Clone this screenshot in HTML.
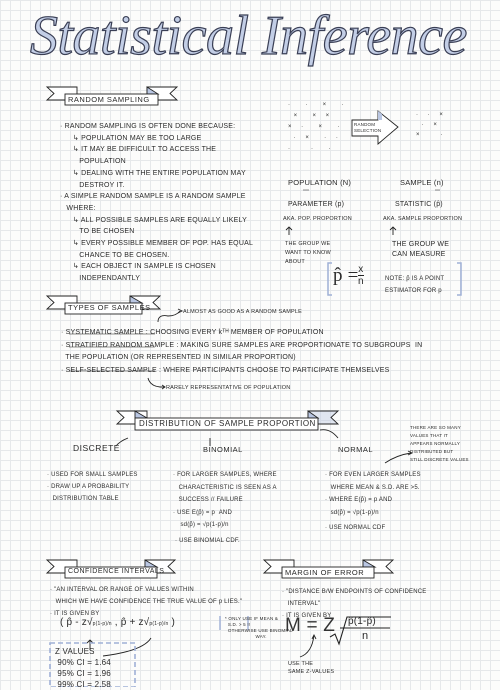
<!DOCTYPE html>
<html><head><meta charset="utf-8">
<style>
html,body{margin:0;padding:0}
body{width:500px;height:687px;position:relative;overflow:hidden;background:#fcfcfb;
background-image:linear-gradient(#e6e8ea 1px,transparent 1px),linear-gradient(90deg,#e6e8ea 1px,transparent 1px);background-size:10px 10px;
font-family:"Liberation Sans",sans-serif;color:#2a2a2a}
.t{position:absolute;font-size:7px;white-space:nowrap;letter-spacing:0.2px;line-height:8px}
.h{position:absolute;font-size:8.5px;white-space:nowrap;letter-spacing:0.5px}
svg{position:absolute;left:0;top:0}
.title{position:absolute;left:30px;top:4px;font-family:"Liberation Serif",serif;font-style:italic;font-size:56px;line-height:64px;color:#c3cee6;-webkit-text-stroke:1.2px #3a3f55;letter-spacing:-0.5px;white-space:nowrap}
</style></head><body>
<div class="title">Statistical Inference</div>
<svg width="500" height="687" viewBox="0 0 500 687" fill="none" stroke="#222" stroke-width="0.9">
<g>
<polygon points="47,87 77,87 77,100 47,100 54,93.5" fill="#fff"/>
<polygon points="147,87 177,87 170,93.5 177,100 147,100" fill="#fff"/>
<polygon points="147,87 158,94 147,94" fill="#b9c6e2"/>
<rect x="65" y="94" width="93" height="11" fill="#fff"/>
</g>
<g>
<polygon points="47,296 77,296 77,309 47,309 54,302.5" fill="#fff"/>
<polygon points="130,296 160,296 153,302.5 160,309 130,309" fill="#fff"/>
<polygon points="130,296 142,303 130,303" fill="#b9c6e2"/>
<rect x="65" y="303" width="77" height="11" fill="#fff"/>
</g>
<g>
<polygon points="117,411 147,411 147,424 117,424 124,417.5" fill="#fff"/>
<polygon points="308,411 338,411 331,417.5 338,424 308,424" fill="#b9c6e2" fill-opacity="0.4"/>
<polygon points="308,411 318,418 308,418" fill="#b9c6e2"/>
<polygon points="135,411 147,418 135,418" fill="#b9c6e2"/>
<rect x="135" y="418" width="183" height="12" fill="#fff"/>
</g>
<g>
<polygon points="47,560 77,560 77,573 47,573 54,566.5" fill="#fff"/>
<polygon points="145,560 175,560 168,566.5 175,573 145,573" fill="#fff"/>
<polygon points="145,560 157,567 145,567" fill="#b9c6e2"/>
<rect x="65" y="567" width="92" height="11" fill="#fff"/>
</g>
<g>
<polygon points="264,560 294,560 294,573 264,573 271,566.5" fill="#fff"/>
<polygon points="363,560 393,560 386,566.5 393,573 363,573" fill="#fff"/>
<polygon points="363,560 375,567 363,567" fill="#b9c6e2"/>
<rect x="282" y="567" width="92" height="11" fill="#fff"/>
</g>
<polygon points="352,120 378,120 378,111 398,127 378,144 378,136 352,136" fill="#fff"/>
<polygon points="378,111 382,114 382,120 378,120" fill="#b9c6e2" stroke="none"/>
<path d="M332,263 h-4 v32 h4 M457,263 h4 v32 h-4" stroke="#9fb0d6" stroke-width="1.5"/>
<path d="M289,235 v-8 M286,230 l3,-3 l3,3 M393,235 v-8 M390,230 l3,-3 l3,3"/>
<path d="M158,322 q0,-8 10,-6 q8,0 12,-5" /><path d="M178,309 l4,2 l-4,2"/>
<path d="M148,378 q2,8 12,9 l5,0"/><path d="M162,385 l3,2 l-3,2"/>
<path d="M128,438 q-8,3 -12,8"/><path d="M210,438 v8"/><path d="M320,430 q10,-2 18,8"/>
<path d="M385,463 q12,-8 26,-10"/><path d="M408,451 l4,2 l-4,2"/>
<path d="M90,650 v-10 M87,643 l3,-3 l3,3"/><path d="M103,656 q40,-5 48,-18"/>
<path d="M300,657 q12,-4 14,-22"/><path d="M312,639 l2,-4 l2,4"/>
<rect x="50" y="643" width="85" height="44" stroke="#9fb0d6" stroke-width="1.6" stroke-dasharray="5,3"/>
<path d="M220,616 v14 M248,616 v14" stroke="#9fb0d6" stroke-width="1.4"/>
<g stroke-width="0.6">
<path d="M69,334 h86 M69,347 h86 M69,371 h86"/>
<path d="M303,190 h6 M435,190 h5"/>
</g>
<path d="M330,637 l5,-3 l4,10 l8,-27 h44" stroke-width="1.1"/>
<path d="M340,628 h50" stroke-width="1"/>
</svg>

<div class="t" style="left:288px;top:100px;font-size:6px;line-height:11px;letter-spacing:4px">·&nbsp;&nbsp;·&nbsp;&nbsp;×&nbsp;&nbsp;·<br>&nbsp;×&nbsp;&nbsp;×&nbsp;×<br>×&nbsp;·&nbsp;&nbsp;×&nbsp;&nbsp;·<br>&nbsp;·&nbsp;×&nbsp;&nbsp;·&nbsp;·<br>·&nbsp;&nbsp;&nbsp;·&nbsp;&nbsp;·</div>
<div class="t" style="left:416px;top:110px;font-size:6px;line-height:10px;letter-spacing:4px">·&nbsp;·&nbsp;×<br>&nbsp;·&nbsp;×<br>×&nbsp;&nbsp;&nbsp;·</div>
<div class="t" style="left:354px;top:122px;font-size:4.5px;line-height:6px">RANDOM<br>SELECTION</div>

<div class="h" style="left:68px;top:95px;font-size:7.5px">RANDOM SAMPLING</div>
<div class="t" style="left:60px;top:121px;line-height:11.7px">· RANDOM SAMPLING IS OFTEN DONE BECAUSE:<br>&nbsp;&nbsp;&nbsp;&nbsp;&nbsp;&nbsp;↳ POPULATION MAY BE TOO LARGE<br>&nbsp;&nbsp;&nbsp;&nbsp;&nbsp;&nbsp;↳ IT MAY BE DIFFICULT TO ACCESS THE<br>&nbsp;&nbsp;&nbsp;&nbsp;&nbsp;&nbsp;&nbsp;&nbsp;&nbsp;POPULATION<br>&nbsp;&nbsp;&nbsp;&nbsp;&nbsp;&nbsp;↳ DEALING WITH THE ENTIRE POPULATION MAY<br>&nbsp;&nbsp;&nbsp;&nbsp;&nbsp;&nbsp;&nbsp;&nbsp;&nbsp;DESTROY IT.<br>· A SIMPLE RANDOM SAMPLE IS A RANDOM SAMPLE<br>&nbsp;&nbsp;&nbsp;WHERE:<br>&nbsp;&nbsp;&nbsp;&nbsp;&nbsp;&nbsp;↳ ALL POSSIBLE SAMPLES ARE EQUALLY LIKELY<br>&nbsp;&nbsp;&nbsp;&nbsp;&nbsp;&nbsp;&nbsp;&nbsp;&nbsp;TO BE CHOSEN<br>&nbsp;&nbsp;&nbsp;&nbsp;&nbsp;&nbsp;↳ EVERY POSSIBLE MEMBER OF POP. HAS EQUAL<br>&nbsp;&nbsp;&nbsp;&nbsp;&nbsp;&nbsp;&nbsp;&nbsp;&nbsp;CHANCE TO BE CHOSEN.<br>&nbsp;&nbsp;&nbsp;&nbsp;&nbsp;&nbsp;↳ EACH OBJECT IN SAMPLE IS CHOSEN<br>&nbsp;&nbsp;&nbsp;&nbsp;&nbsp;&nbsp;&nbsp;&nbsp;&nbsp;INDEPENDANTLY</div>

<div class="t" style="left:288px;top:179px;font-size:7.5px">POPULATION (N)</div>
<div class="t" style="left:400px;top:179px;font-size:7.5px">SAMPLE (n)</div>
<div class="t" style="left:288px;top:201px">PARAMETER (p)</div>
<div class="t" style="left:395px;top:201px">STATISTIC (p̂)</div>
<div class="t" style="left:283px;top:215px;font-size:5.5px">AKA. POP. PROPORTION</div>
<div class="t" style="left:383px;top:215px;font-size:5.5px">AKA. SAMPLE PROPORTION</div>
<div class="t" style="left:285px;top:240px;font-size:5.5px;line-height:9px">THE GROUP WE<br>WANT TO KNOW<br>ABOUT</div>
<div class="t" style="left:392px;top:240px;font-size:7px;line-height:9.5px">THE GROUP WE<br>CAN MEASURE</div>
<div class="t" style="left:333px;top:266px;font-size:19px;line-height:20px;font-family:'Liberation Serif',serif">p̂ =</div>
<div class="t" style="left:358px;top:264px;font-size:10px;line-height:12px;text-align:center">x<br><span style="border-top:1px solid #222">n</span></div>
<div class="t" style="left:385px;top:273px;font-size:6px;line-height:12px">NOTE: p̂ IS A POINT<br>ESTIMATOR FOR p</div>

<div class="h" style="left:68px;top:303px;font-size:7.5px">TYPES OF SAMPLES</div>
<div class="t" style="left:183px;top:308px;font-size:5.5px">ALMOST AS GOOD AS A RANDOM SAMPLE</div>
<div class="t" style="left:61px;top:327px;line-height:12.5px">· SYSTEMATIC SAMPLE : CHOOSING EVERY kᵀᴴ MEMBER OF POPULATION<br>· STRATIFIED RANDOM SAMPLE : MAKING SURE SAMPLES ARE PROPORTIONATE TO SUBGROUPS &nbsp;IN<br>&nbsp;&nbsp;THE POPULATION (OR REPRESENTED IN SIMILAR PROPORTION)<br>· SELF-SELECTED SAMPLE : WHERE PARTICIPANTS CHOOSE TO PARTICIPATE THEMSELVES</div>
<div class="t" style="left:166px;top:384px;font-size:5.5px">RARELY REPRESENTATIVE OF POPULATION</div>

<div class="h" style="left:139px;top:419px;font-size:8px">DISTRIBUTION OF SAMPLE PROPORTION</div>
<div class="h" style="left:73px;top:443px">DISCRETE</div>
<div class="h" style="left:203px;top:445px;font-size:7.5px">BINOMIAL</div>
<div class="h" style="left:338px;top:445px;font-size:7.5px">NORMAL</div>
<div class="t" style="left:410px;top:424px;font-size:4.5px;line-height:8px">THERE ARE SO MANY<br>VALUES THAT IT<br>APPEARS NORMALLY<br>DISTRIBUTED BUT<br>STILL DISCRETE VALUES</div>
<div class="t" style="left:47px;top:469px;font-size:6px;line-height:12px">· USED FOR SMALL SAMPLES<br>· DRAW UP A PROBABILITY<br>&nbsp;&nbsp;&nbsp;DISTRIBUTION TABLE</div>
<div class="t" style="left:173px;top:469px;font-size:6px;line-height:12.5px">· FOR LARGER SAMPLES, WHERE<br>&nbsp;&nbsp;&nbsp;CHARACTERISTIC IS SEEN AS A<br>&nbsp;&nbsp;&nbsp;SUCCESS // FAILURE<br>· USE E(p̂) = p &nbsp;AND<br>&nbsp;&nbsp;&nbsp;&nbsp;sd(p̂) = √p(1-p)/n</div>
<div class="t" style="left:175px;top:537px;font-size:6px">· USE BINOMIAL CDF.</div>
<div class="t" style="left:325px;top:469px;font-size:6px;line-height:12.5px">· FOR EVEN LARGER SAMPLES<br>&nbsp;&nbsp;&nbsp;WHERE MEAN &amp; S.D. ARE &gt;5.<br>· WHERE E(p̂) = p AND<br>&nbsp;&nbsp;&nbsp;sd(p̂) = √p(1-p)/n</div>
<div class="t" style="left:325px;top:524px;font-size:6px">· USE NORMAL CDF</div>

<div class="h" style="left:68px;top:568px;font-size:7px">CONFIDENCE INTERVALS</div>
<div class="h" style="left:285px;top:568px;font-size:7.5px">MARGIN OF ERROR</div>
<div class="t" style="left:50px;top:584px;font-size:6px;line-height:12px">· "AN INTERVAL OR RANGE OF VALUES WITHIN<br>&nbsp;&nbsp;&nbsp;WHICH WE HAVE CONFIDENCE THE TRUE VALUE OF p LIES."<br>· IT IS GIVEN BY</div>
<div class="t" style="left:60px;top:617px;font-size:10px;line-height:12px">( p̂ - z√<span style="font-size:5px">p(1-p)/n</span> , p̂ + z√<span style="font-size:5px">p(1-p)/n</span> )</div>
<div class="t" style="left:225px;top:616px;font-size:4.5px;line-height:6px">* ONLY USE IF MEAN &amp;<br>&nbsp;&nbsp;S.D. &gt; 5 !!<br>&nbsp;&nbsp;OTHERWISE USE BINOMIAL<br>&nbsp;&nbsp;&nbsp;&nbsp;&nbsp;&nbsp;&nbsp;&nbsp;&nbsp;&nbsp;&nbsp;&nbsp;&nbsp;&nbsp;&nbsp;&nbsp;&nbsp;&nbsp;&nbsp;&nbsp;&nbsp;WAY.</div>
<div class="t" style="left:55px;top:646px;font-size:8px;line-height:11px">Z VALUES<br>&nbsp;90% CI = 1.64<br>&nbsp;95% CI = 1.96<br>&nbsp;99% CI = 2.58</div>
<div class="t" style="left:282px;top:586px;font-size:6px;line-height:12px">· "DISTANCE B/W ENDPOINTS OF CONFIDENCE<br>&nbsp;&nbsp;&nbsp;INTERVAL"<br>· IT IS GIVEN BY</div>
<div class="t" style="left:285px;top:615px;font-size:19px;line-height:22px;color:#333">M = Z</div>
<div class="t" style="left:348px;top:616px;font-size:10px;line-height:12px">p̂(1-p̂)</div>
<div class="t" style="left:362px;top:630px;font-size:11px;line-height:12px">n</div>
<div class="t" style="left:288px;top:660px;font-size:5.5px;line-height:8px">USE THE<br>SAME Z-VALUES</div>
</body></html>
